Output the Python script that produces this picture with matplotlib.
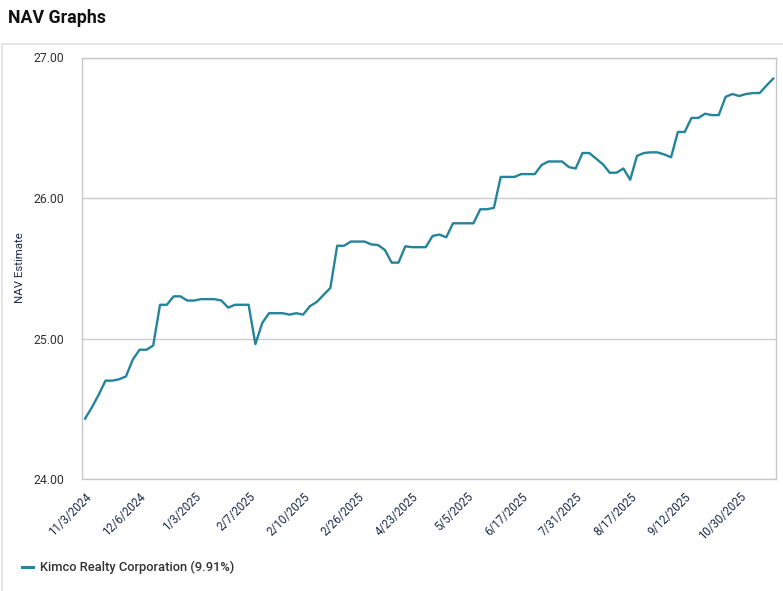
import matplotlib
matplotlib.use("Agg")
import matplotlib.pyplot as plt
from matplotlib.patches import Rectangle
from matplotlib.lines import Line2D

title = "NAV Graphs"
series_name = "Kimco Realty Corporation (9.91%)"
y_label = "NAV Estimate"
tick_labels = ["11/3/2024", "12/6/2024", "1/3/2025", "2/7/2025", "2/10/2025", "2/26/2025",
               "4/23/2025", "5/5/2025", "6/17/2025", "7/31/2025", "8/17/2025", "9/12/2025",
               "10/30/2025"]
tick_step = 8
nav_values = [
    24.43, 24.51, 24.60, 24.70, 24.70, 24.71, 24.73, 24.85, 24.92, 24.92,
    24.95, 25.24, 25.24, 25.30, 25.30, 25.27, 25.27, 25.28, 25.28, 25.28,
    25.27, 25.22, 25.24, 25.24, 25.24, 24.96, 25.11, 25.18, 25.18, 25.18,
    25.17, 25.18, 25.17, 25.23, 25.26, 25.31, 25.36, 25.66, 25.66, 25.69,
    25.69, 25.69, 25.67, 25.665, 25.63, 25.54, 25.54, 25.656, 25.65, 25.65,
    25.65, 25.73, 25.74, 25.72, 25.82, 25.82, 25.82, 25.82, 25.92, 25.92,
    25.93, 26.15, 26.15, 26.15, 26.17, 26.17, 26.17, 26.235, 26.26, 26.26,
    26.26, 26.22, 26.21, 26.32, 26.32, 26.28, 26.24, 26.18, 26.18, 26.21,
    26.13, 26.30, 26.32, 26.325, 26.325, 26.31, 26.29, 26.47, 26.47, 26.57,
    26.57, 26.60, 26.59, 26.59, 26.72, 26.74, 26.726, 26.74, 26.747, 26.747,
    26.80, 26.85,
]

plt.rcParams['font.family'] = ['Roboto', 'DejaVu Sans']

W, H = 783, 591
fig = plt.figure(figsize=(W / 100, H / 100), dpi=100)
fig.patch.set_facecolor("white")

# panel border
fig.add_artist(Rectangle((2 / W, -0.01), 1.02, 1 - 44 / H + 0.01, transform=fig.transFigure,
                         fill=False, edgecolor="#e0e0e0", linewidth=1.2))

fig.text(8 / W, 1 - 18 / H, title, fontsize=12.8, fontweight="bold", color="#111111",
         ha="left", va="center")

ax = fig.add_axes([82 / W, 1 - 479 / H, (776 - 82) / W, (479 - 57.5) / H])
x = list(range(len(nav_values)))
line_color = "#23849a"
ax.plot(x, nav_values, color=line_color, linewidth=1.7, solid_joinstyle="round")

ax.set_ylim(24, 27)
ax.set_xlim(-0.45, 101.4)
ax.set_yticks([24, 25, 26, 27])
ax.set_yticklabels(["24.00", "25.00", "26.00", "27.00"], fontsize=8.8, color="#333333")
ax.yaxis.grid(True, color="#cccccc", linewidth=1.0)
ax.set_axisbelow(True)
ax.tick_params(axis="both", length=0)
ax.tick_params(axis="y", pad=12.5)
ticks = [i * tick_step for i in range(len(tick_labels))]
ax.set_xticks(ticks)
ax.set_xticklabels(tick_labels, rotation=45, ha="right", rotation_mode="anchor",
                   fontsize=8.3, color="#1c2b4a")
ax.tick_params(axis="x", pad=8)
for s in ax.spines.values():
    s.set_color("#c8c8c8")
    s.set_linewidth(1.0)

fig.text(20 / W, 1 - 268 / H, y_label, rotation=90, fontsize=8.2, color="#1c2b4a",
         ha="center", va="center")

# legend
fig.add_artist(Line2D([22 / W, 33 / W], [1 - 567 / H, 1 - 567 / H], transform=fig.transFigure,
                      color=line_color, linewidth=2.2))
fig.text(40 / W, 1 - 567 / H, series_name, fontsize=9.3, color="#333333", ha="left",
         va="center", fontweight="medium")

fig.savefig("out.png", dpi=100)
